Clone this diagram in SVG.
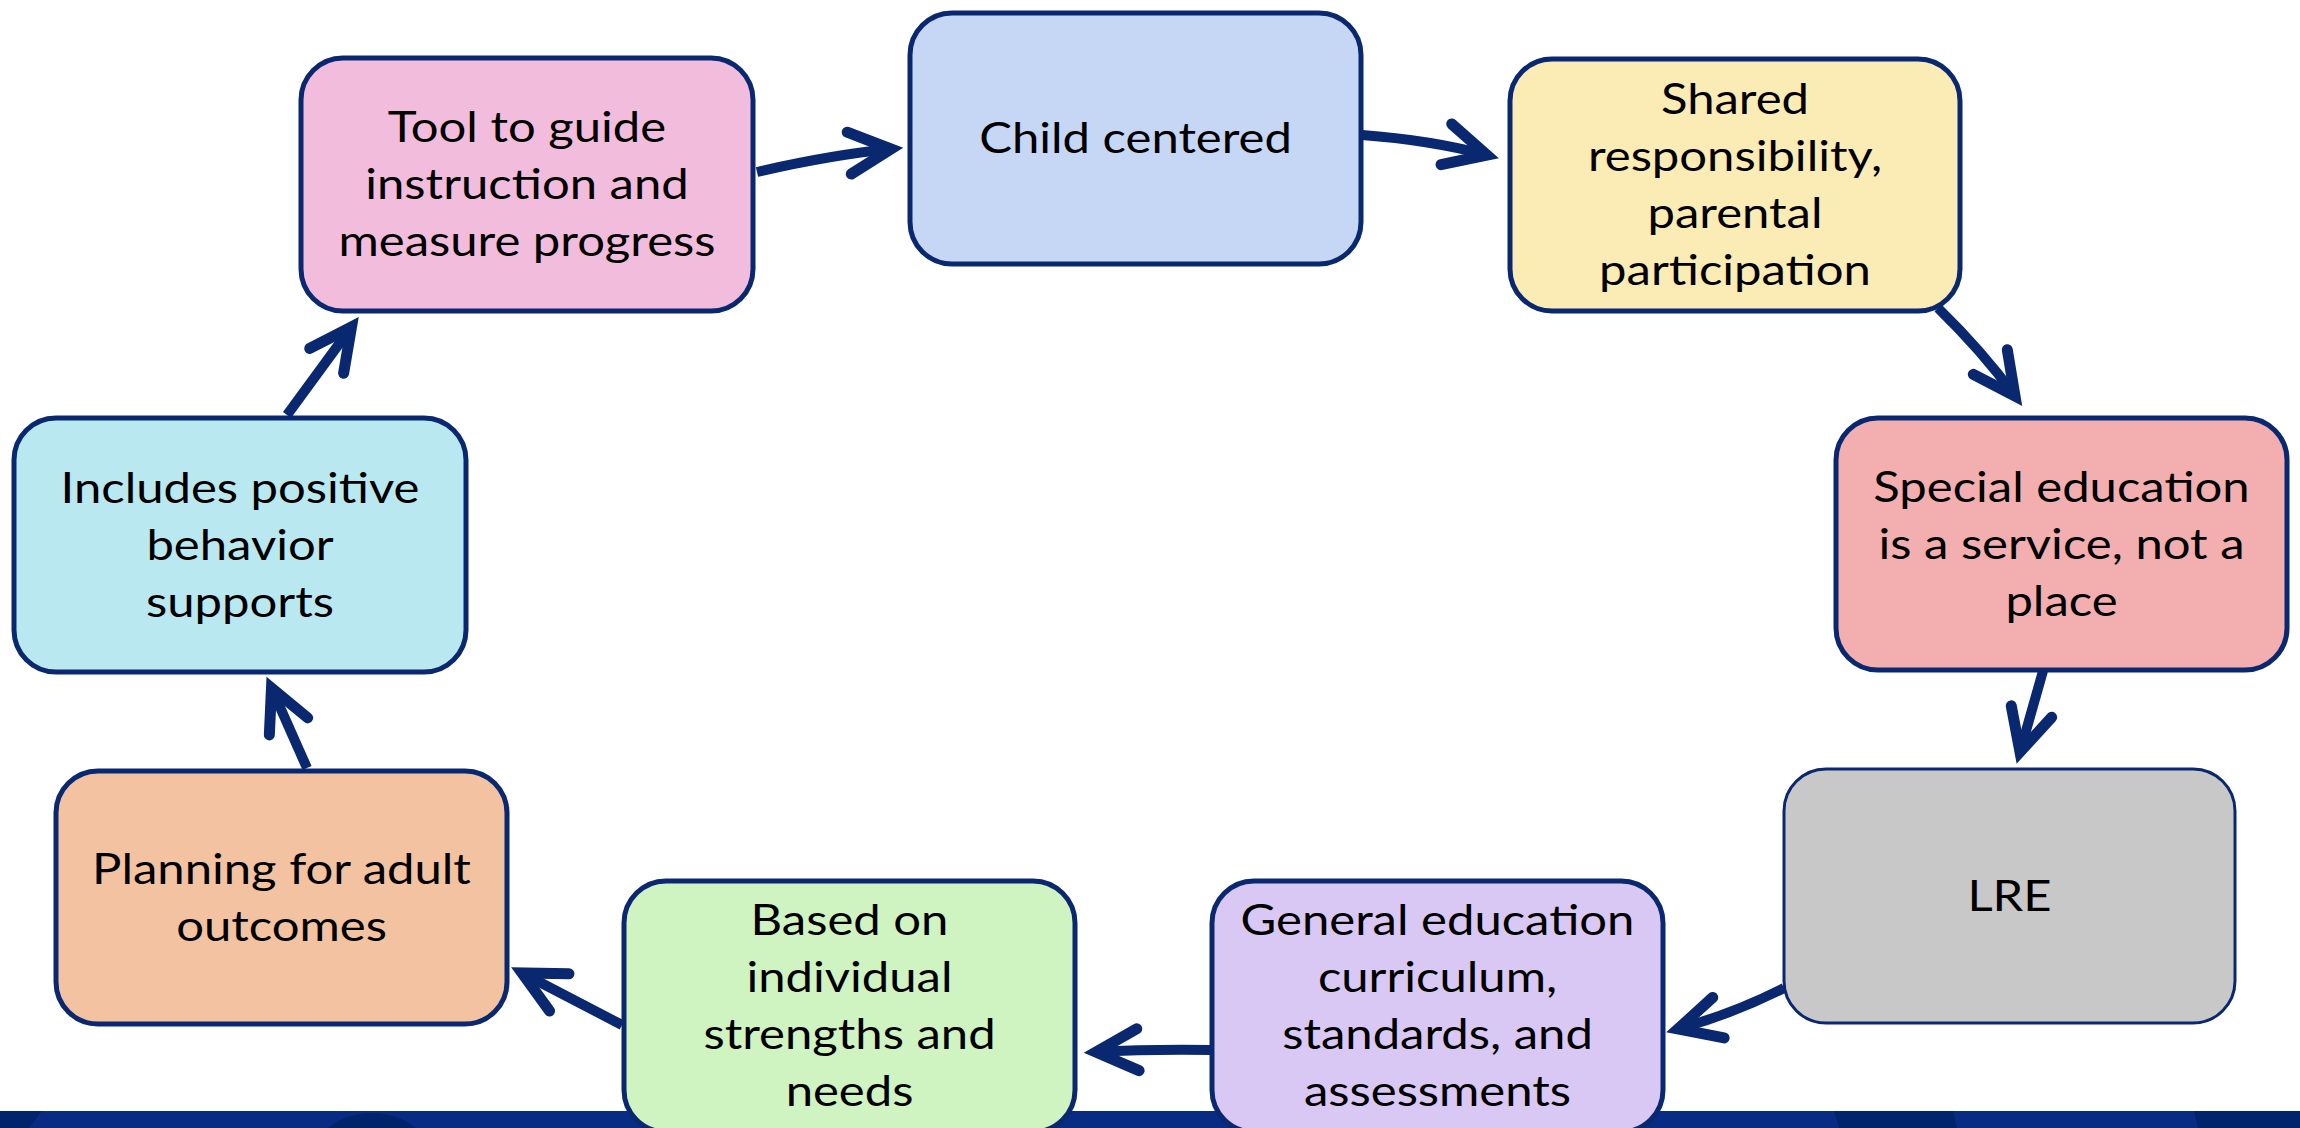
<svg xmlns="http://www.w3.org/2000/svg" width="2300" height="1128" viewBox="0 0 2300 1128">
<style>
.box{stroke:#0a2870;stroke-width:5}
.lbl{font-family:Lato,"Open Sans","Liberation Sans",sans-serif;font-size:43px;fill:#000;text-anchor:middle}
.conn{fill:none;stroke:#0a2870;stroke-width:10;stroke-linecap:butt}
</style>
<defs>
<marker id="ah" markerUnits="userSpaceOnUse" orient="auto" markerWidth="120" markerHeight="120" viewBox="-60 -60 120 120" refX="0" refY="0" overflow="visible">
<path d="M-42,-21 L0,0 L-42,21" fill="none" stroke="#0a2870" stroke-width="11" stroke-linecap="round" stroke-linejoin="miter"/>
</marker>
</defs>
<rect width="2300" height="1128" fill="#fff"/>
<g id="band">
<rect x="0" y="1111" width="2300" height="17" fill="#082c84"/>
<polygon points="0,1111 42,1111 29,1128 0,1128" fill="#00246b"/>
<ellipse cx="372" cy="1160" rx="60" ry="47" fill="#00246b"/>
<polygon points="1834,1111 1953,1111 1957,1128 1839,1128" fill="#00246b"/>
<polygon points="2194,1111 2300,1111 2300,1128 2198,1128" fill="#00246b"/>
</g>
<g id="connectors">
<path class="conn" d="M757,172 Q830,155 891,149" marker-end="url(#ah)"/>
<path class="conn" d="M1362,135 Q1430,140 1487,155" marker-end="url(#ah)"/>
<path class="conn" d="M1938,308 Q1983,352 2015,396" marker-end="url(#ah)"/>
<path class="conn" d="M2043,671 L2020,752" marker-end="url(#ah)"/>
<path class="conn" d="M1784,988 Q1735,1013 1678,1029" marker-end="url(#ah)"/>
<path class="conn" d="M1212,1050 Q1150,1049 1096,1052" marker-end="url(#ah)"/>
<path class="conn" d="M622,1025 L522,973" marker-end="url(#ah)"/>
<path class="conn" d="M307,768 L271.5,688" marker-end="url(#ah)"/>
<path class="conn" d="M287,415 L351.5,327" marker-end="url(#ah)"/>
</g>
<g id="n-tool">
<rect class="box" x="301" y="58" width="452" height="253" rx="42" fill="#f2bcdc"/>
<g transform="translate(527 0) scale(1.14 1)"><text class="lbl" x="0" y="142.5">Tool to guide</text><text class="lbl" x="0" y="199.5">instruction and</text><text class="lbl" x="0" y="256.5">measure progress</text></g>
</g>
<g id="n-child">
<rect class="box" x="910" y="13" width="451" height="251" rx="42" fill="#c6d6f5"/>
<g transform="translate(1135.5 0) scale(1.14 1)"><text class="lbl" x="0" y="153.5">Child centered</text></g>
</g>
<g id="n-shared">
<rect class="box" x="1510" y="59" width="450" height="252" rx="42" fill="#fbebb5"/>
<g transform="translate(1735 0) scale(1.14 1)"><text class="lbl" x="0" y="114.5">Shared</text><text class="lbl" x="0" y="171.5">responsibility,</text><text class="lbl" x="0" y="228.5">parental</text><text class="lbl" x="0" y="285.5">participation</text></g>
</g>
<g id="n-special">
<rect class="box" x="1836" y="418" width="451" height="252" rx="42" fill="#f3afb0"/>
<g transform="translate(2061.5 0) scale(1.14 1)"><text class="lbl" x="0" y="502">Special education</text><text class="lbl" x="0" y="559">is a service, not a</text><text class="lbl" x="0" y="616">place</text></g>
</g>
<g id="n-lre">
<rect class="box" x="1784" y="769" width="451" height="254" rx="42" fill="#c8c8c8" style="stroke-width:3"/>
<g transform="translate(2009.5 0) scale(1.14 1)"><text class="lbl" x="0" y="911">LRE</text></g>
</g>
<g id="n-general">
<rect class="box" x="1212" y="881" width="451" height="251" rx="42" fill="#d9c8f4"/>
<g transform="translate(1437.5 0) scale(1.14 1)"><text class="lbl" x="0" y="935">General education</text><text class="lbl" x="0" y="992">curriculum,</text><text class="lbl" x="0" y="1049">standards, and</text><text class="lbl" x="0" y="1106">assessments</text></g>
</g>
<g id="n-based">
<rect class="box" x="624" y="881" width="451" height="251" rx="42" fill="#d0f3c2"/>
<g transform="translate(849.5 0) scale(1.14 1)"><text class="lbl" x="0" y="935">Based on</text><text class="lbl" x="0" y="992">individual</text><text class="lbl" x="0" y="1049">strengths and</text><text class="lbl" x="0" y="1106">needs</text></g>
</g>
<g id="n-planning">
<rect class="box" x="56" y="771" width="451" height="253" rx="42" fill="#f3c3a1"/>
<g transform="translate(281.5 0) scale(1.14 1)"><text class="lbl" x="0" y="884">Planning for adult</text><text class="lbl" x="0" y="941">outcomes</text></g>
</g>
<g id="n-includes">
<rect class="box" x="14" y="418" width="452" height="254" rx="42" fill="#b9e8f0"/>
<g transform="translate(240 0) scale(1.14 1)"><text class="lbl" x="0" y="503">Includes positive</text><text class="lbl" x="0" y="560">behavior</text><text class="lbl" x="0" y="617">supports</text></g>
</g>
</svg>
